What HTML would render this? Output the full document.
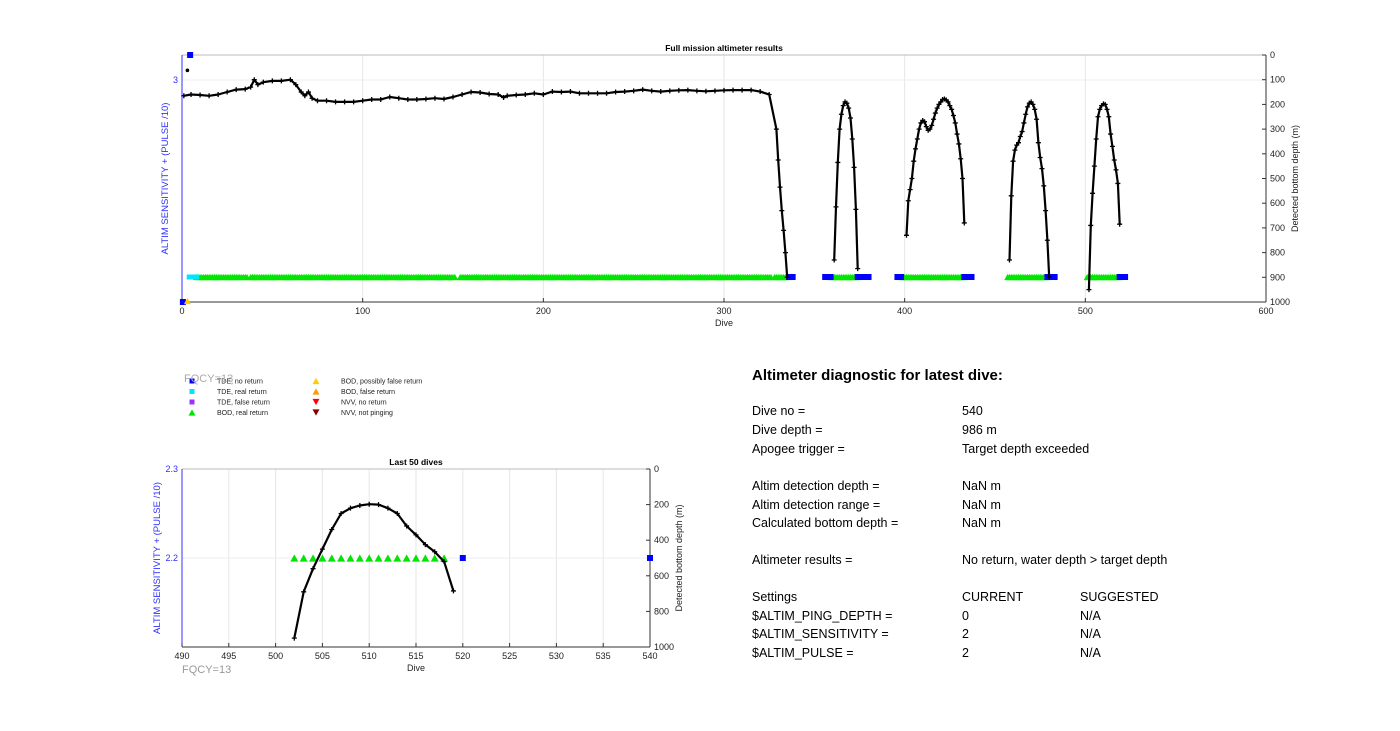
<!DOCTYPE html>
<html><head><meta charset="utf-8"><style>
body{margin:0;background:#fff;width:1400px;height:726px;overflow:hidden;font-family:"Liberation Sans",sans-serif}
svg text{font-family:"Liberation Sans",sans-serif}
</style></head><body>
<svg id="svg" width="1400" height="726" viewBox="0 0 1400 726">
<g id="top"></g>
<g id="bot"></g>
<g id="legend"></g>
<g id="panel" font-size="12.5" fill="#000">
<text x="752" y="380" font-size="15" font-weight="bold">Altimeter diagnostic for latest dive:</text>
<text x="752" y="415">Dive no =</text><text x="962" y="415">540</text>
<text x="752" y="434">Dive depth =</text><text x="962" y="434">986 m</text>
<text x="752" y="453">Apogee trigger =</text><text x="962" y="453">Target depth exceeded</text>
<text x="752" y="490">Altim detection depth =</text><text x="962" y="490">NaN m</text>
<text x="752" y="509">Altim detection range =</text><text x="962" y="509">NaN m</text>
<text x="752" y="527">Calculated bottom depth =</text><text x="962" y="527">NaN m</text>
<text x="752" y="564">Altimeter results =</text><text x="962" y="564">No return, water depth &gt; target depth</text>
<text x="752" y="601">Settings</text><text x="962" y="601">CURRENT</text><text x="1080" y="601">SUGGESTED</text>
<text x="752" y="620">$ALTIM_PING_DEPTH =</text><text x="962" y="620">0</text><text x="1080" y="620">N/A</text>
<text x="752" y="638">$ALTIM_SENSITIVITY =</text><text x="962" y="638">2</text><text x="1080" y="638">N/A</text>
<text x="752" y="657">$ALTIM_PULSE =</text><text x="962" y="657">2</text><text x="1080" y="657">N/A</text>
</g>
<text x="184" y="382" font-size="11" fill="#aaa">FQCY=13</text>
<text x="182" y="673" font-size="11" fill="#999">FQCY=13</text>
</svg>
<script>
// ---- data: full mission ----
const seg1Dives=[1,5,10,15,20,25,30,35,38,40,42,45,50,55,60,63,66,68,70,72,75,80,85,90,95,100,105,110,115,120,125,130,135,140,145,150,155,160,165,170,175,178,180,185,190,195,200,205,210,215,220,225,230,235,240,245,250,255,260,265,270,275,280,285,290,295,300,305,310,315,320,325,329,330,331,332,333,334,335];
const seg1Depth=[165,160,162,165,160,150,140,138,130,100,120,110,105,105,100,120,150,165,150,175,185,185,190,190,190,185,180,180,170,175,180,180,178,175,178,170,160,150,152,158,160,172,165,162,160,155,160,148,150,148,155,155,155,155,150,148,145,140,145,148,145,143,142,145,147,145,143,142,142,142,148,160,300,425,535,630,710,800,900];
const seg2Dives=[361,362,363,364,365,366,367,368,369,370,371,372,373,374];
const seg2Depth=[830,615,435,300,240,205,190,195,215,255,340,455,625,865];
const seg3Dives=[401,402,403,404,405,406,407,408,409,410,411,412,413,414,415,416,417,418,419,420,421,422,423,424,425,426,427,428,429,430,431,432,433];
const seg3Depth=[730,590,545,500,430,380,340,300,275,265,270,290,305,300,285,260,235,215,200,190,180,178,182,190,205,220,245,275,320,360,420,500,680];
const seg4Dives=[458,459,460,461,462,463,464,465,466,467,468,469,470,471,472,473,474,475,476,477,478,479,480];
const seg4Depth=[830,570,430,385,365,355,330,310,275,240,210,195,190,200,220,260,355,415,460,530,630,750,900];
const seg5Dives=[502,503,504,505,506,507,508,509,510,511,512,513,514,515,516,517,518,519];
const seg5Depth=[950,690,560,450,340,250,220,205,198,200,220,250,320,370,425,465,520,685];
const bodRealRanges=[[8,36],[38,141],[142,151],[154,313],[314,326],[328,335],[359,374],[398,433],[457,479],[501,519]];
const tdeNoReturnRanges=[[336,338],[356,359],[374,380],[396,398],[433,437],[479,483],[519,522]];
const tdeRealRanges=[[4,8]];
const topTicksX=[0,100,200,300,400,500,600];
const topTicksRight=[0,100,200,300,400,500,600,700,800,900,1000];
// ---- data: last 50 ----
const botBodDives=[502,503,504,505,506,507,508,509,510,511,512,513,514,515,516,517,518];
const botTdeDives=[520,540];
const botSensLevel=2.2;
const botTicksX=[490,495,500,505,510,515,520,525,530,535,540];
const botTicksRight=[0,200,400,600,800,1000];

const NS='http://www.w3.org/2000/svg';
function mk(parent,tag,attrs,name){const e=document.createElementNS(NS,tag);for(const k in attrs)e.setAttribute(k,attrs[k]);


parent.appendChild(e);return e;}
function txt(parent,x,y,s,attrs,name){const t=mk(parent,'text',Object.assign({x:x,y:y},attrs),name);t.textContent=s;return t;}
function tri(parent,cx,cy,s,fill,down,name){const h=s*0.9;const pts=down?`${cx-s/2},${cy-h/2} ${cx+s/2},${cy-h/2} ${cx},${cy+h/2}`:`${cx-s/2},${cy+h/2} ${cx+s/2},${cy+h/2} ${cx},${cy-h/2}`;return mk(parent,'polygon',{points:pts,fill:fill},name);}
function sq(parent,cx,cy,s,fill,name){return mk(parent,'rect',{x:cx-s/2,y:cy-s/2,width:s,height:s,fill:fill},name);}
function cross(parent,cx,cy,name){mk(parent,'path',{d:`M${cx-2.5},${cy}H${cx+2.5}M${cx},${cy-2.5}V${cy+2.5}`,stroke:'#000','stroke-width':1.3},name);}

function drawChart(g,o){
  const X=d=>o.x0+(d-o.xmin)/(o.xmax-o.xmin)*(o.x1-o.x0);
  const YD=v=>o.y0+v/1000*(o.y1-o.y0);
  const YS=v=>o.y1-(v-o.smin)/(o.smax-o.smin)*(o.y1-o.y0);
  o.ticksX.forEach(t=>{ if(t>o.xmin&&t<o.xmax) mk(g,'line',{x1:X(t),x2:X(t),y1:o.y0,y2:o.y1,stroke:'#e6e6e6'},'x-gridline');});
  o.leftTicks.forEach(t=>mk(g,'line',{x1:o.x0,x2:o.x1,y1:YS(t),y2:YS(t),stroke:'#ececf6'},'y-gridline'));
  mk(g,'line',{x1:o.x0,x2:o.x1,y1:o.y0,y2:o.y0,stroke:'#bbb'},'top-border');
  mk(g,'line',{x1:o.x0,x2:o.x1,y1:o.y1,y2:o.y1,stroke:'#333'},'x-axis');
  mk(g,'line',{x1:o.x0,x2:o.x0,y1:o.y0,y2:o.y1,stroke:'#3030ff'},'left-y-axis');
  mk(g,'line',{x1:o.x1,x2:o.x1,y1:o.y0,y2:o.y1,stroke:'#333'},'right-y-axis');
  o.ticksX.forEach(t=>{mk(g,'line',{x1:X(t),x2:X(t),y1:o.y1,y2:o.y1-4,stroke:'#333'},'x-tick');
    txt(g,X(t),o.y1+12,String(t),{'font-size':9,'text-anchor':'middle',fill:'#222'},'x-tick-label');});
  o.ticksR.forEach(t=>{mk(g,'line',{x1:o.x1,x2:o.x1-4,y1:YD(t),y2:YD(t),stroke:'#333'},'right-tick');
    txt(g,o.x1+4,YD(t)+3,String(t),{'font-size':9,fill:'#222'},'right-tick-label');});
  o.leftTicks.forEach(t=>txt(g,o.x0-4,YS(t)+3,t.toFixed(1).replace(/\.0$/,''),{'font-size':9,'text-anchor':'end',fill:'#3030ff'},'left-tick-label'));
  txt(g,(o.x0+o.x1)/2,o.y1+24,'Dive',{'font-size':9,'text-anchor':'middle',fill:'#222'},'x-axis-title');
  txt(g,(o.x0+o.x1)/2,o.y0-4,o.title,{'font-size':8.5,'font-weight':'bold','text-anchor':'middle',fill:'#000'},'chart-title');
  const ly=(o.y0+o.y1)/2, lx=o.x0-o.leftTitleOff;
  txt(g,lx,ly,'ALTIM SENSITIVITY + (PULSE /10)',{'font-size':9.5,'text-anchor':'middle',fill:'#3030ff',transform:`rotate(-90 ${lx} ${ly})`},'left-y-axis-title');
  const rx=o.x1+o.rightTitleOff;
  txt(g,rx,ly,'Detected bottom depth (m)',{'font-size':9,'text-anchor':'middle',fill:'#222',transform:`rotate(-90 ${rx} ${ly})`},'right-y-axis-title');
  return {X,YD,YS};
}

const gt=document.getElementById('top');
const T=drawChart(gt,{x0:182,x1:1266,y0:55,y1:302,xmin:0,xmax:600,smin:2.0985,smax:3.1015,ticksX:topTicksX,ticksR:topTicksRight,leftTicks:[3],title:'Full mission altimeter results',leftTitleOff:14,rightTitleOff:32});
bodRealRanges.forEach(r=>{for(let d=r[0];d<=r[1];d++) tri(gt,T.X(d),T.YS(2.2),7,'#00e600',false,'bod-real-return-marker');});
tdeRealRanges.forEach(r=>{for(let d=r[0];d<=r[1];d++) sq(gt,T.X(d),T.YS(2.2),5,'#00e5ff','tde-real-return-marker');});
tdeNoReturnRanges.forEach(r=>{for(let d=r[0];d<=r[1];d++) sq(gt,T.X(d),T.YS(2.2),6,'#0000ff','tde-no-return-marker');});
sq(gt,T.X(0.5),T.YS(2.0985),6,'#0000ff','tde-no-return-marker');
tri(gt,T.X(3),T.YS(2.0985)-1,7,'#ffcc00',false,'bod-possibly-false-marker');
sq(gt,T.X(4.5),T.YS(3.1015),6,'#0000ff','tde-no-return-marker');
mk(gt,'circle',{cx:T.X(3),cy:T.YD(62),r:1.8,fill:'#000'},'depth-point');
[[seg1Dives,seg1Depth],[seg2Dives,seg2Depth],[seg3Dives,seg3Depth],[seg4Dives,seg4Depth],[seg5Dives,seg5Depth]].forEach(([ds,vs])=>{
  const d=ds.map((x,i)=>(i?'L':'M')+T.X(x).toFixed(1)+','+T.YD(vs[i]).toFixed(1)).join('');
  mk(gt,'path',{d:d,fill:'none',stroke:'#000','stroke-width':2.2,'stroke-linejoin':'round'},'bottom-depth-line');
  ds.forEach((x,i)=>cross(gt,T.X(x),T.YD(vs[i]),'bottom-depth-marker'));
});

const gb=document.getElementById('bot');
const B=drawChart(gb,{x0:182,x1:650,y0:469,y1:647,xmin:490,xmax:540,smin:2.1,smax:2.3,ticksX:botTicksX,ticksR:botTicksRight,leftTicks:[2.3,2.2],title:'Last 50 dives',leftTitleOff:22,rightTitleOff:32});
botBodDives.forEach(d=>tri(gb,B.X(d),B.YS(botSensLevel),8,'#00e600',false,'bod-real-return-marker'));
botTdeDives.forEach(d=>sq(gb,B.X(d),B.YS(botSensLevel),6,'#0000ff','tde-no-return-marker'));
{const d=seg5Dives.map((x,i)=>(i?'L':'M')+B.X(x).toFixed(1)+','+B.YD(seg5Depth[i]).toFixed(1)).join('');
 mk(gb,'path',{d:d,fill:'none',stroke:'#000','stroke-width':2.2,'stroke-linejoin':'round'},'bottom-depth-line');
 seg5Dives.forEach((x,i)=>cross(gb,B.X(x),B.YD(seg5Depth[i]),'bottom-depth-marker'));}

const gl=document.getElementById('legend');
const legendItems=[['TDE, no return','sq','#0000ff'],['TDE, real return','sq','#00e5ff'],['TDE, false return','sq','#9933ff'],['BOD, real return','up','#00e600'],
['BOD, possibly false return','up','#ffcc00'],['BOD, false return','up','#ff9900'],['NVV, no return','down','#ff0000'],['NVV, not pinging','down','#800000']];
legendItems.forEach((it,i)=>{const col=Math.floor(i/4),row=i%4;const mx=col?316:192,tx=col?341:217,y=381+row*10.5;
  if(it[1]==='sq') sq(gl,mx,y,5,it[2],'legend-marker'); else tri(gl,mx,y,7,it[2],it[1]==='down','legend-marker');
  txt(gl,tx,y+2.5,it[0],{'font-size':7,fill:'#222'},'legend-entry');});
</script>
</body></html>
